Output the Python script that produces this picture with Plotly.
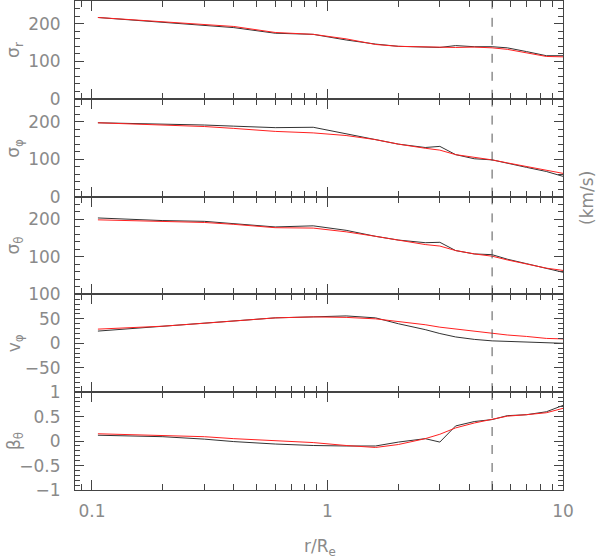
import plotly.graph_objects as go
from plotly.subplots import make_subplots

# radius in units of R_e
r = [0.106, 0.2, 0.3, 0.4, 0.6, 0.87, 1.2, 1.6, 2.0, 2.6, 3.0, 3.5, 4.2, 5.0, 5.8, 7.0, 8.5, 10.0]

# black = model, red = fit
sig_r_black = [217, 205, 197, 190, 175, 172, 157, 146, 140, 139, 137, 142, 139, 139, 136, 126, 115, 115]
sig_r_red = [217, 205, 198, 193, 177, 172, 160, 145, 140, 138, 137, 137, 138, 136, 132, 123, 113, 112]

sig_p_black = [197, 194, 191, 188, 184, 185, 167, 152, 140, 131, 134, 112, 101, 98, 90, 78, 67, 54]
sig_p_red = [197, 192, 187, 182, 174, 170, 163, 152, 140, 129, 124, 112, 105, 98, 90, 80, 71, 62]

sig_t_black = [204, 197, 195, 188, 180, 183, 171, 155, 145, 138, 139, 117, 108, 106, 94, 82, 70, 59]
sig_t_red = [199, 195, 192, 187, 178, 177, 167, 155, 145, 133, 129, 117, 108, 102, 92, 82, 70, 64]

v_p_black = [25, 35, 40, 45, 52, 54, 56, 52, 40, 28, 20, 13, 8, 5, 4, 2, 1, 0]
v_p_red = [29, 35, 41, 45, 52, 54, 53, 50, 45, 38, 33, 29, 24, 20, 17, 14, 10, 9]

beta_black = [0.12, 0.09, 0.04, -0.01, -0.06, -0.09, -0.10, -0.10, -0.02, 0.05, -0.02, 0.31, 0.40, 0.44, 0.52, 0.54, 0.60, 0.73]
beta_red = [0.15, 0.12, 0.09, 0.05, 0.01, -0.03, -0.09, -0.13, -0.07, 0.05, 0.14, 0.27, 0.37, 0.44, 0.51, 0.54, 0.58, 0.67]

R_MARK = 5.0  # dashed reference radius

# (label, black, red, y range, labelled ticks, minor step)
# the 0 of sigma_theta sits under the 100 of v_phi, so it is left out
panels = [
    ("σ<sub>r</sub>", sig_r_black, sig_r_red, [0, 261], [0, 100, 200], 20),
    ("σ<sub>φ</sub>", sig_p_black, sig_p_red, [0, 261], [0, 100, 200], 20),
    ("σ<sub>θ</sub>", sig_t_black, sig_t_red, [0, 261], [100, 200], 20),
    ("v<sub>φ</sub>", v_p_black, v_p_red, [-100, 100], [-50, 0, 50, 100], 10),
    ("β<sub>θ</sub>", beta_black, beta_red, [-1, 1], [-1, -0.5, 0, 0.5, 1], 0.1),
]

AXIS = '#444'
TEXT = '#8a8a8a'
FONT = 'DejaVu Sans'

fig = make_subplots(rows=5, cols=1, shared_xaxes=True, vertical_spacing=0)

x_major = [0.1, 1, 10]
x_minor = [0.09] + [k / 10 for k in range(2, 10)] + list(range(2, 10))

for i, (title, black, red, yr, yticks, ymin) in enumerate(panels):
    row = i + 1
    fig.add_trace(go.Scatter(x=r, y=black, mode='lines',
                             line=dict(color='#333', width=1), showlegend=False),
                  row=row, col=1)
    fig.add_trace(go.Scatter(x=r, y=red, mode='lines',
                             line=dict(color='#ff2020', width=1), showlegend=False),
                  row=row, col=1)
    fig.add_trace(go.Scatter(x=[R_MARK, R_MARK], y=yr, mode='lines',
                             line=dict(color='#555', width=1, dash='dash'),
                             showlegend=False),
                  row=row, col=1)

    fig.update_yaxes(range=yr, tickmode='array', tickvals=yticks,
                     showline=True, linecolor=AXIS, linewidth=1, mirror='ticks',
                     ticks='inside', ticklen=9, tickcolor=AXIS,
                     minor=dict(ticks='inside', ticklen=5, tickcolor=AXIS,
                                tick0=0, dtick=ymin),
                     showgrid=False, zeroline=False, automargin=False,
                     tickfont=dict(size=17, color=TEXT, family=FONT),
                     ticklabelstandoff=10,
                     row=row, col=1)
    fig.update_xaxes(type='log', range=[-1.072, 1],
                     tickmode='array', tickvals=x_major,
                     ticktext=['0.1', '1', '10'],
                     showline=True, linecolor=AXIS, linewidth=1, mirror='ticks',
                     ticks='inside', ticklen=10, tickcolor=AXIS,
                     minor=dict(ticks='inside', ticklen=6, tickcolor=AXIS,
                                tickmode='array', tickvals=x_minor),
                     showgrid=False, zeroline=False, automargin=False,
                     tickfont=dict(size=17, color=TEXT, family=FONT),
                     ticklabelstandoff=6,
                     row=row, col=1)

    # panel label on the left
    yc = 1 - (i + 0.5) / 5
    fig.add_annotation(text=title, xref='paper', yref='paper',
                       x=-0.123, y=yc, xanchor='center', yanchor='middle',
                       textangle=-90, showarrow=False,
                       font=dict(size=17, color=TEXT, family=FONT))

fig.add_annotation(text="(km/s)", xref='paper', yref='paper',
                   x=1.049, y=0.597, xanchor='center', yanchor='middle',
                   textangle=-90, showarrow=False,
                   font=dict(size=17, color=TEXT, family=FONT))
fig.add_annotation(text="r/R<sub>e</sub>", xref='paper', yref='paper',
                   x=0.502, y=-0.117, xanchor='center', yanchor='middle',
                   showarrow=False,
                   font=dict(size=17, color=TEXT, family=FONT))

fig.update_layout(
    width=598, height=560,
    margin=dict(l=75, r=35, t=1, b=70),
    plot_bgcolor='white', paper_bgcolor='white',
    showlegend=False,
)

fig.write_html("out.html", config={'displayModeBar': False},
               post_script="document.body.style.margin='0';")
